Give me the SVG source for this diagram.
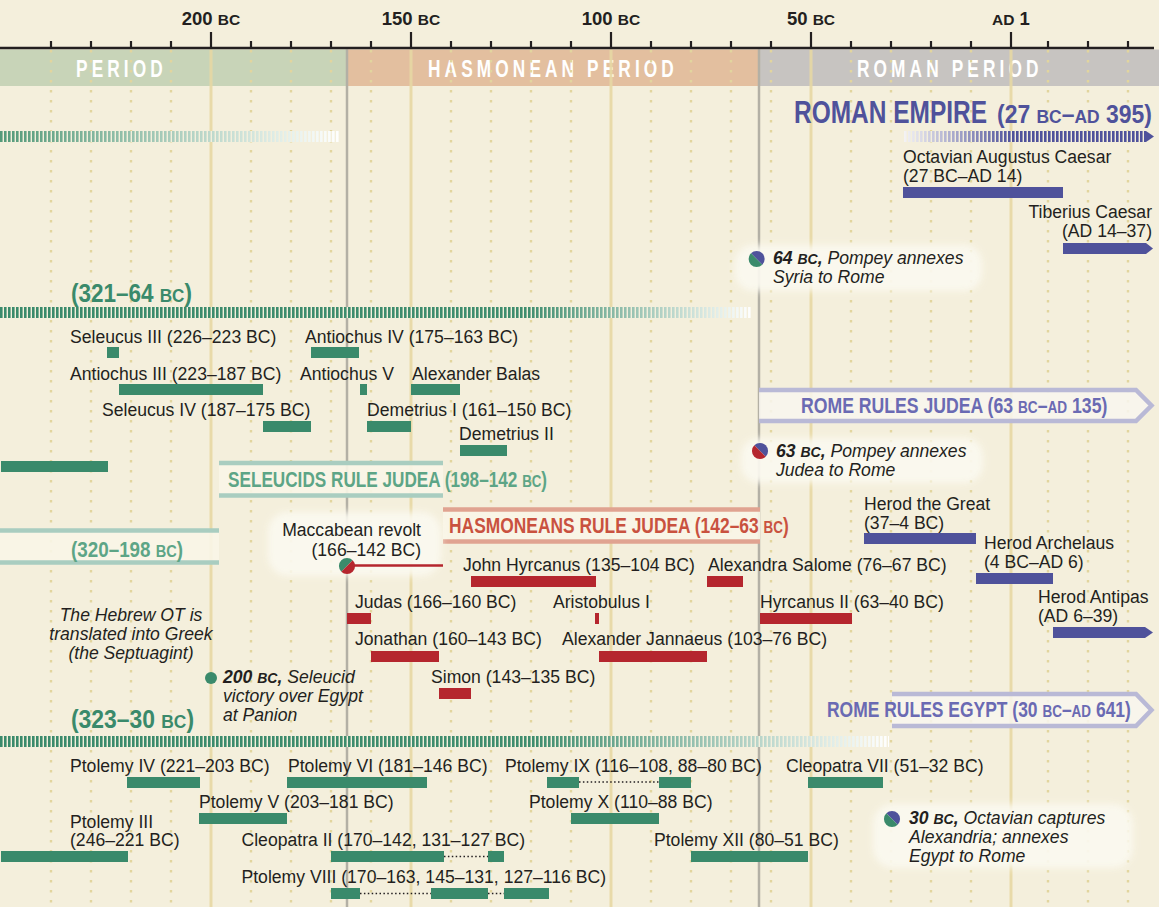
<svg xmlns="http://www.w3.org/2000/svg" width="1159" height="907" viewBox="0 0 1159 907">
<style>
text{font-family:"Liberation Sans",Arial,sans-serif}
.lb{font-size:17.6px;fill:#231f20}
.ev{font-size:17.6px;fill:#231f20;font-style:italic}
.evb{font-weight:bold}
.sm{font-size:14px}
.ax{font-size:18.5px;font-weight:bold;fill:#231f20}
.axs{font-size:15.5px}
.band{font-size:24px;font-weight:bold;fill:#ffffff;letter-spacing:5.7px}
.ttl{font-weight:bold}
.g{fill:#3a8a6b}
.r{fill:#b5262e}
.p{fill:#4f529b}
.dot{stroke:#e2d59e;stroke-width:2.4;stroke-dasharray:2.5 7.5}
.gold{stroke:#e7d8a4;stroke-width:3}
.gray{stroke:#b3b0a5;stroke-width:2.5}
.tick{stroke:#231f20;stroke-width:2.2}
.dl{stroke:#231f20;stroke-width:1.6;stroke-dasharray:1.5 2.4}
.glow{fill:#fbf9f0;opacity:0.92}
</style>
<defs>
<filter id="soft" x="-20%" y="-40%" width="140%" height="180%"><feGaussianBlur stdDeviation="3.5"/></filter>
<pattern id="gaps" width="4" height="20" patternUnits="userSpaceOnUse"><rect x="2.6" y="0" width="1.4" height="20" fill="#f4efdc"/></pattern>
<linearGradient id="fadeTop" x1="0" y1="0" x2="1" y2="0"><stop offset="0" stop-color="#549a79"/><stop offset="1" stop-color="#ffffff"/></linearGradient>
<linearGradient id="fadeSel" x1="0" y1="0" x2="1" y2="0"><stop offset="0" stop-color="#3a8a6b"/><stop offset="0.7" stop-color="#3f8d6e"/><stop offset="1" stop-color="#ffffff"/></linearGradient>
<linearGradient id="fadePto" x1="0" y1="0" x2="1" y2="0"><stop offset="0" stop-color="#3a8a6b"/><stop offset="0.6" stop-color="#3f8d6e"/><stop offset="1" stop-color="#ffffff"/></linearGradient>
<linearGradient id="fadeRom" x1="0" y1="0" x2="1" y2="0"><stop offset="0" stop-color="#f4f3f4"/><stop offset="0.45" stop-color="#4f529b"/><stop offset="1" stop-color="#4f529b"/></linearGradient>
</defs>

<!-- background -->
<rect x="0" y="0" width="1159" height="907" fill="#f4efdc"/>

<!-- period bands -->
<g id="bands">
<rect x="0" y="49.5" width="347" height="36.5" fill="#c8d4b8"/>
<rect x="347" y="49.5" width="412" height="36.5" fill="#e3bf9f"/>
<rect x="759" y="49.5" width="400" height="36.5" fill="#c7c4c1"/>
<text class="band" transform="translate(76 76.5) scale(0.72 1)">PERIOD</text>
<text class="band" transform="translate(428 76.5) scale(0.72 1)">HASMONEAN PERIOD</text>
<text class="band" transform="translate(857 76.5) scale(0.72 1)">ROMAN PERIOD</text>
</g>

<!-- grid lines -->
<g id="grid">
<g class="dot">
<line x1="51" y1="50" x2="51" y2="907"/><line x1="91" y1="50" x2="91" y2="907"/><line x1="131" y1="50" x2="131" y2="907"/><line x1="171" y1="50" x2="171" y2="907"/>
<line x1="251" y1="50" x2="251" y2="907"/><line x1="291" y1="50" x2="291" y2="907"/><line x1="331" y1="50" x2="331" y2="907"/><line x1="371" y1="50" x2="371" y2="907"/>
<line x1="451" y1="50" x2="451" y2="907"/><line x1="491" y1="50" x2="491" y2="907"/><line x1="531" y1="50" x2="531" y2="907"/><line x1="571" y1="50" x2="571" y2="907"/>
<line x1="651" y1="50" x2="651" y2="907"/><line x1="691" y1="50" x2="691" y2="907"/><line x1="731" y1="50" x2="731" y2="907"/><line x1="771" y1="50" x2="771" y2="907"/>
<line x1="851" y1="50" x2="851" y2="907"/><line x1="891" y1="50" x2="891" y2="907"/><line x1="931" y1="50" x2="931" y2="907"/><line x1="971" y1="50" x2="971" y2="907"/>
<line x1="1048" y1="50" x2="1048" y2="907"/><line x1="1088" y1="50" x2="1088" y2="907"/><line x1="1128" y1="50" x2="1128" y2="907"/>
</g>
<g class="gold" opacity="0.9">
<line x1="211" y1="49.5" x2="211" y2="907"/><line x1="411" y1="49.5" x2="411" y2="907"/><line x1="611" y1="49.5" x2="611" y2="907"/><line x1="811" y1="49.5" x2="811" y2="907"/><line x1="1011" y1="49.5" x2="1011" y2="907"/>
</g>
<g class="gray">
<line x1="347" y1="49.5" x2="347" y2="907"/><line x1="759" y1="49.5" x2="759" y2="907"/>
</g>
</g>

<!-- axis -->
<g id="axis">
<line x1="0" y1="48" x2="1154" y2="48" stroke="#231f20" stroke-width="2.6"/>
<g class="tick">
<line x1="211" y1="32" x2="211" y2="48"/><line x1="411" y1="32" x2="411" y2="48"/><line x1="611" y1="32" x2="611" y2="48"/><line x1="811" y1="32" x2="811" y2="48"/><line x1="1011" y1="32" x2="1011" y2="48"/>
<line x1="51" y1="41" x2="51" y2="48"/><line x1="91" y1="41" x2="91" y2="48"/><line x1="131" y1="41" x2="131" y2="48"/><line x1="171" y1="41" x2="171" y2="48"/>
<line x1="251" y1="41" x2="251" y2="48"/><line x1="291" y1="41" x2="291" y2="48"/><line x1="331" y1="41" x2="331" y2="48"/><line x1="371" y1="41" x2="371" y2="48"/>
<line x1="451" y1="41" x2="451" y2="48"/><line x1="491" y1="41" x2="491" y2="48"/><line x1="531" y1="41" x2="531" y2="48"/><line x1="571" y1="41" x2="571" y2="48"/>
<line x1="651" y1="41" x2="651" y2="48"/><line x1="691" y1="41" x2="691" y2="48"/><line x1="731" y1="41" x2="731" y2="48"/><line x1="771" y1="41" x2="771" y2="48"/>
<line x1="851" y1="41" x2="851" y2="48"/><line x1="891" y1="41" x2="891" y2="48"/><line x1="931" y1="41" x2="931" y2="48"/><line x1="971" y1="41" x2="971" y2="48"/>
<line x1="1048" y1="41" x2="1048" y2="48"/><line x1="1088" y1="41" x2="1088" y2="48"/><line x1="1128" y1="41" x2="1128" y2="48"/>
</g>
<text class="ax" x="211" y="25" text-anchor="middle">200 <tspan class="axs">BC</tspan></text>
<text class="ax" x="411" y="25" text-anchor="middle">150 <tspan class="axs">BC</tspan></text>
<text class="ax" x="611" y="25" text-anchor="middle">100 <tspan class="axs">BC</tspan></text>
<text class="ax" x="811" y="25" text-anchor="middle">50 <tspan class="axs">BC</tspan></text>
<text class="ax" x="1011" y="25" text-anchor="middle"><tspan class="axs">AD</tspan> 1</text>
</g>

<!-- empire dashed bars -->
<g id="empire-bars">
<rect x="0" y="131" width="340" height="11" fill="url(#fadeTop)"/>
<rect x="0" y="131" width="340" height="11" fill="url(#gaps)"/>
<rect x="0" y="307" width="752" height="11" fill="url(#fadeSel)"/>
<rect x="0" y="307" width="752" height="11" fill="url(#gaps)"/>
<rect x="0" y="736" width="889" height="11" fill="url(#fadePto)"/>
<rect x="0" y="736" width="889" height="11" fill="url(#gaps)"/>
<rect x="904" y="131" width="242" height="11" fill="url(#fadeRom)"/>
<rect x="904" y="131" width="242" height="11" fill="url(#gaps)"/>
<polygon class="p" points="1146,131 1154,136.5 1146,142"/>
</g>

<!-- titles -->
<g id="roman-empire">
<text class="ttl" transform="translate(794 123) scale(0.765 1)" font-size="32" fill="#4f529b">ROMAN EMPIRE</text>
<text class="ttl" transform="translate(997 123) scale(0.918 1)" font-size="25" fill="#4f529b">(27 <tspan font-size="19">BC</tspan>–<tspan font-size="19">AD</tspan> 395)</text>
</g>
<g id="seleucid-empire">
<text class="ttl" transform="translate(71 302) scale(0.9 1)" font-size="25" fill="#3a8a6b">(321–64 <tspan font-size="19">BC</tspan>)</text>
</g>
<g id="ptolemaic-empire">
<text class="ttl" transform="translate(71 728) scale(0.915 1)" font-size="25" fill="#3a8a6b">(323–30 <tspan font-size="19">BC</tspan>)</text>
</g>

<!-- rule boxes -->
<g id="ptolemies-rule-judea">
<rect x="0" y="530.5" width="219" height="32" fill="#f8f5e6" opacity="0.92"/>
<line x1="0" y1="530.5" x2="219" y2="530.5" stroke="#a9cdc0" stroke-width="4.5"/>
<line x1="0" y1="562.5" x2="219" y2="562.5" stroke="#a9cdc0" stroke-width="4.5"/>
<text class="ttl" transform="translate(71 557) scale(0.856 1)" font-size="22" fill="#5da586">(320–198 <tspan font-size="17">BC</tspan>)</text>
</g>
<g id="seleucids-rule-judea">
<rect x="219" y="463" width="224" height="32" fill="#f8f5e6" opacity="0.92"/>
<line x1="219" y1="463" x2="443" y2="463" stroke="#a9cdc0" stroke-width="4.5"/>
<line x1="219" y1="495.5" x2="443" y2="495.5" stroke="#a9cdc0" stroke-width="4.5"/>
<text class="ttl" transform="translate(228 487) scale(0.781 1)" font-size="22" fill="#5da586">SELEUCIDS RULE JUDEA (198–142 <tspan font-size="17">BC</tspan>)</text>
</g>
<g id="hasmoneans-rule-judea">
<rect x="443" y="509.5" width="317" height="32" fill="#f8f5e6" opacity="0.92"/>
<line x1="443" y1="509.5" x2="760" y2="509.5" stroke="#e0a391" stroke-width="4.5"/>
<line x1="443" y1="541.5" x2="760" y2="541.5" stroke="#e0a391" stroke-width="4.5"/>
<text class="ttl" transform="translate(449 533) scale(0.791 1)" font-size="22" fill="#c9523f">HASMONEANS RULE JUDEA (142–63 <tspan font-size="17">BC</tspan>)</text>
</g>
<g id="rome-rules-judea">
<path d="M759,390 L1136,390 L1151.5,405.5 L1136,421 L759,421" fill="#f8f6ee" fill-opacity="0.85" stroke="#b9b9d6" stroke-width="4.5"/>
<text class="ttl" transform="translate(801 413) scale(0.802 1)" font-size="22" fill="#6a6ab3">ROME RULES JUDEA (63 <tspan font-size="17">BC</tspan>–<tspan font-size="17">AD</tspan> 135)</text>
</g>
<g id="rome-rules-egypt">
<path d="M892,694 L1136,694 L1151.5,710 L1136,726 L892,726" fill="#f8f6ee" fill-opacity="0.85" stroke="#b9b9d6" stroke-width="4.5"/>
<text class="ttl" transform="translate(827 717) scale(0.794 1)" font-size="22" fill="#6a6ab3">ROME RULES EGYPT (30 <tspan font-size="17">BC</tspan>–<tspan font-size="17">AD</tspan> 641)</text>
</g>

<!-- events -->
<g id="ev-64bc">
<rect class="glow" x="735" y="245" width="247" height="46" rx="18" filter="url(#soft)"/>
<path d="M751,253.3 A8,8 0 0 1 762.3,264.7 Z" class="p"/>
<path d="M762.3,264.7 A8,8 0 0 1 751,253.3 Z" class="g"/>
<text class="ev" x="773" y="264"><tspan class="evb">64 <tspan class="sm">BC</tspan>,</tspan> Pompey annexes<tspan x="773" dy="19">Syria to Rome</tspan></text>
</g>
<g id="ev-63bc">
<rect class="glow" x="741" y="438" width="242" height="45" rx="18" filter="url(#soft)"/>
<path d="M754.3,445.3 A8,8 0 0 1 765.7,456.7 Z" class="p"/>
<path d="M765.7,456.7 A8,8 0 0 1 754.3,445.3 Z" class="r"/>
<text class="ev" x="776" y="457"><tspan class="evb">63 <tspan class="sm">BC</tspan>,</tspan> Pompey annexes<tspan x="776" dy="19">Judea to Rome</tspan></text>
</g>
<g id="ev-30bc">
<rect class="glow" x="873" y="804" width="260" height="64" rx="20" filter="url(#soft)"/>
<path d="M886.3,813.3 A8,8 0 0 1 897.7,824.7 Z" class="p"/>
<path d="M897.7,824.7 A8,8 0 0 1 886.3,813.3 Z" class="g"/>
<text class="ev" x="909" y="824"><tspan class="evb">30 <tspan class="sm">BC</tspan>,</tspan> Octavian captures<tspan x="909" dy="19">Alexandria; annexes</tspan><tspan x="909" dy="18.5">Egypt to Rome</tspan></text>
</g>
<g id="ev-maccabean">
<rect class="glow" x="268" y="512" width="173" height="64" rx="20" filter="url(#soft)"/>
<text class="lb" x="421" y="536" text-anchor="end">Maccabean revolt<tspan x="421" dy="19.5">(166–142 BC)</tspan></text>
</g>
<g id="ev-200bc">
<circle class="g" cx="211" cy="678" r="6"/>
<text class="ev" x="223" y="683"><tspan class="evb">200 <tspan class="sm">BC</tspan>,</tspan> Seleucid<tspan x="223" dy="19">victory over Egypt</tspan><tspan x="223" dy="18.5">at Panion</tspan></text>
</g>
<g id="ev-septuagint">
<text class="ev" x="131" y="621" text-anchor="middle">The Hebrew OT is<tspan x="131" dy="19">translated into Greek</tspan><tspan x="131" dy="19">(the Septuagint)</tspan></text>
</g>

<!-- connectors -->
<g id="connectors">
<line x1="353" y1="565.5" x2="443" y2="565.5" stroke="#b5262e" stroke-width="2.6"/>
<line class="dl" x1="579" y1="782" x2="659" y2="782"/>
<line class="dl" x1="444" y1="856.5" x2="488" y2="856.5"/>
<line class="dl" x1="360" y1="893.5" x2="431" y2="893.5"/>
<line class="dl" x1="488" y1="893.5" x2="504" y2="893.5"/>
</g>
<g id="maccabean-dot">
<path d="M341.3,571.7 A8,8 0 0 1 352.7,560.3 Z" class="g"/>
<path d="M352.7,560.3 A8,8 0 0 1 341.3,571.7 Z" class="r"/>
</g>

<!-- Roman rulers -->
<g id="octavian">
<text class="lb" x="903" y="163">Octavian Augustus Caesar<tspan x="903" dy="18.5">(27 BC–AD 14)</tspan></text>
<rect class="p" x="903" y="187" width="160" height="11"/>
</g>
<g id="tiberius">
<text class="lb" x="1152" y="218" text-anchor="end">Tiberius Caesar<tspan x="1152" dy="19">(AD 14–37)</tspan></text>
<polygon class="p" points="1063,243 1146,243 1153,248.5 1146,254 1063,254"/>
</g>
<g id="herod-great">
<text class="lb" x="864" y="510">Herod the Great<tspan x="864" dy="18.5">(37–4 BC)</tspan></text>
<rect class="p" x="864" y="533" width="112" height="11"/>
</g>
<g id="herod-archelaus">
<text class="lb" x="984" y="549">Herod Archelaus<tspan x="984" dy="19">(4 BC–AD 6)</tspan></text>
<rect class="p" x="976" y="573" width="77" height="11"/>
</g>
<g id="herod-antipas">
<text class="lb" x="1038" y="603">Herod Antipas<tspan x="1038" dy="19">(AD 6–39)</tspan></text>
<polygon class="p" points="1053,627 1145,627 1153,632.5 1145,638 1053,638"/>
</g>

<!-- Seleucid rulers -->
<g id="seleucus-ii"><rect class="g" x="1" y="461" width="107" height="11"/></g>
<g id="seleucus-iii"><text class="lb" x="70" y="342.5">Seleucus III (226–223 BC)</text><rect class="g" x="107" y="347" width="12" height="11"/></g>
<g id="antiochus-iv"><text class="lb" x="305" y="342.5">Antiochus IV (175–163 BC)</text><rect class="g" x="311" y="347" width="48" height="11"/></g>
<g id="antiochus-iii"><text class="lb" x="70" y="379.5">Antiochus III (223–187 BC)</text><rect class="g" x="119" y="384" width="144" height="11"/></g>
<g id="antiochus-v"><text class="lb" x="300" y="379.5">Antiochus V</text><rect class="g" x="360" y="384" width="7" height="11"/></g>
<g id="alexander-balas"><text class="lb" x="412" y="379.5">Alexander Balas</text><rect class="g" x="411" y="384" width="49" height="11"/></g>
<g id="seleucus-iv"><text class="lb" x="102" y="416">Seleucus IV (187–175 BC)</text><rect class="g" x="263" y="421" width="48" height="11"/></g>
<g id="demetrius-i"><text class="lb" x="367" y="416">Demetrius I (161–150 BC)</text><rect class="g" x="367" y="421" width="44" height="11"/></g>
<g id="demetrius-ii"><text class="lb" x="459" y="439.5">Demetrius II</text><rect class="g" x="460" y="445" width="47" height="11"/></g>

<!-- Hasmonean rulers -->
<g id="john-hyrcanus"><text class="lb" x="463" y="571">John Hyrcanus (135–104 BC)</text><rect class="r" x="471" y="576" width="125" height="11"/></g>
<g id="alexandra-salome"><text class="lb" x="708" y="571">Alexandra Salome (76–67 BC)</text><rect class="r" x="707" y="576" width="36" height="11"/></g>
<g id="judas"><text class="lb" x="355" y="607.5">Judas (166–160 BC)</text><rect class="r" x="347" y="613" width="24" height="11"/></g>
<g id="aristobulus-i"><text class="lb" x="553" y="607.5">Aristobulus I</text><rect class="r" x="595" y="613" width="4" height="11"/></g>
<g id="hyrcanus-ii"><text class="lb" x="760" y="607.5">Hyrcanus II (63–40 BC)</text><rect class="r" x="760" y="613" width="92" height="11"/></g>
<g id="jonathan"><text class="lb" x="355" y="645">Jonathan (160–143 BC)</text><rect class="r" x="371" y="651" width="68" height="11"/></g>
<g id="alexander-jannaeus"><text class="lb" x="562" y="645">Alexander Jannaeus (103–76 BC)</text><rect class="r" x="599" y="651" width="108" height="11"/></g>
<g id="simon"><text class="lb" x="431" y="683">Simon (143–135 BC)</text><rect class="r" x="439" y="688" width="32" height="11"/></g>

<!-- Ptolemies -->
<g id="ptolemy-iv"><text class="lb" x="70" y="771.5">Ptolemy IV (221–203 BC)</text><rect class="g" x="127" y="777" width="73" height="11"/></g>
<g id="ptolemy-vi"><text class="lb" x="288" y="771.5">Ptolemy VI (181–146 BC)</text><rect class="g" x="287" y="777" width="140" height="11"/></g>
<g id="ptolemy-ix"><text class="lb" x="505" y="771.5">Ptolemy IX (116–108, 88–80 BC)</text><rect class="g" x="547" y="777" width="32" height="11"/><rect class="g" x="659" y="777" width="32" height="11"/></g>
<g id="cleopatra-vii"><text class="lb" x="786" y="771.5">Cleopatra VII (51–32 BC)</text><rect class="g" x="808" y="777" width="75" height="11"/></g>
<g id="ptolemy-v"><text class="lb" x="199" y="808">Ptolemy V (203–181 BC)</text><rect class="g" x="199" y="813" width="88" height="11"/></g>
<g id="ptolemy-x"><text class="lb" x="529" y="808">Ptolemy X (110–88 BC)</text><rect class="g" x="571" y="813" width="88" height="11"/></g>
<g id="ptolemy-iii"><text class="lb" x="70" y="827.5">Ptolemy III<tspan x="70" dy="18.5">(246–221 BC)</tspan></text><rect class="g" x="1" y="851" width="127" height="11"/></g>
<g id="cleopatra-ii"><text class="lb" x="241.5" y="845.5">Cleopatra II (170–142, 131–127 BC)</text><rect class="g" x="331" y="851" width="113" height="11"/><rect class="g" x="488" y="851" width="16" height="11"/></g>
<g id="ptolemy-xii"><text class="lb" x="654" y="845.5">Ptolemy XII (80–51 BC)</text><rect class="g" x="691" y="851" width="117" height="11"/></g>
<g id="ptolemy-viii"><text class="lb" x="241.5" y="883">Ptolemy VIII (170–163, 145–131, 127–116 BC)</text><rect class="g" x="331" y="888" width="29" height="11"/><rect class="g" x="431" y="888" width="57" height="11"/><rect class="g" x="504" y="888" width="45" height="11"/></g>
</svg>
